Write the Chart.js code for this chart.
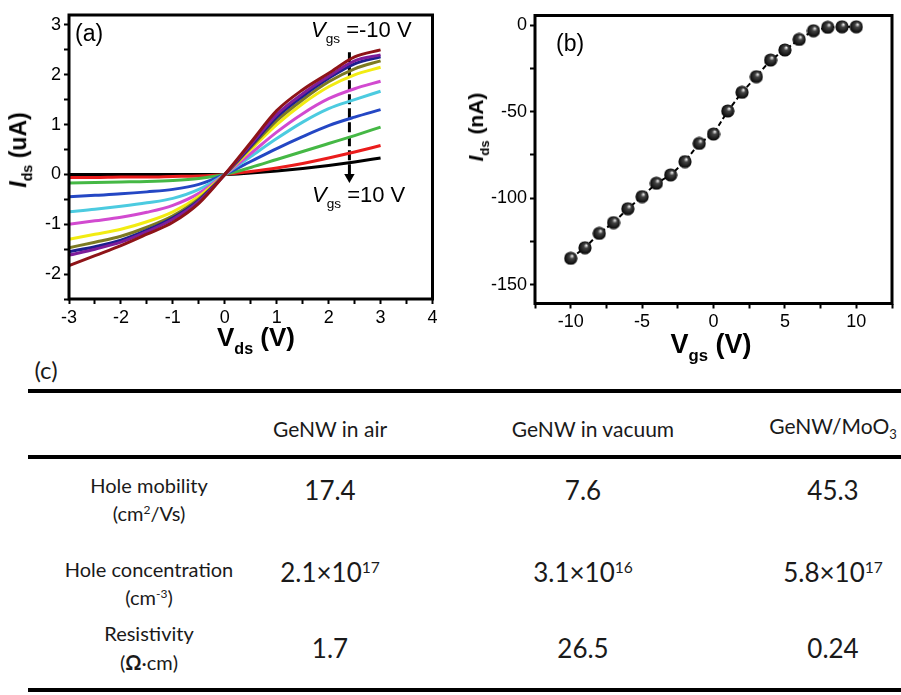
<!DOCTYPE html>
<html><head><meta charset="utf-8">
<script src="https://cdn.jsdelivr.net/npm/chart.js@4/dist/chart.umd.min.js"></script>
<style>
html,body{margin:0;padding:0;background:#fff;}
#wrap{position:relative;width:901px;height:695px;overflow:hidden;background:#fff;}
canvas{position:absolute;}
.t{position:absolute;white-space:nowrap;line-height:1;color:#000;font-family:"Liberation Sans",Arial,sans-serif;}
.c{transform:translate(-50%,-50%);}
.tb{position:absolute;white-space:nowrap;line-height:1;color:#1a1a1a;font-family:Lato,"Open Sans",sans-serif;transform:translate(-50%,-50%);}
.hr{position:absolute;left:28px;width:873px;height:4px;background:#000;}
sub{font-size:0.62em;vertical-align:-0.45em;}
sup{font-size:0.6em;vertical-align:0.55em;}
</style></head>
<body><div id="wrap">
<canvas id="ca" width="450" height="340" style="left:0;top:0"></canvas>
<canvas id="cb" width="451" height="360" style="left:450px;top:0"></canvas>
</div>
<script>
// ---------- Panel (a): Ids–Vds curves for Vgs = -10 ... 10 V ----------
const vdsValues = [-3,-2.5,-2,-1.5,-1,-0.5,0,0.5,1,1.5,2,2.5,3];
const vgsLabels = ['-10 V','-8 V','-6 V','-4 V','-2 V','0 V','2 V','4 V','6 V','8 V','10 V'];
const curveColors = ['#8e1418','#7d1d9a','#1c1f8f','#7c7a22','#f2ec12','#d24ad0','#4ccbe0','#2447c4','#45b845','#ea1c1c','#000000'];
const idsVgsM10 = [-1.83,-1.63,-1.43,-1.2,-0.96,-0.58,0,0.64,1.28,1.7,2.03,2.36,2.5];
const idsVgsM8  = [-1.62,-1.5,-1.36,-1.15,-0.9,-0.54,0,0.6,1.2,1.62,1.97,2.28,2.4];
const idsVgsM6  = [-1.55,-1.45,-1.32,-1.12,-0.87,-0.52,0,0.57,1.15,1.57,1.93,2.22,2.36];
const idsVgsM4  = [-1.47,-1.36,-1.24,-1.06,-0.83,-0.49,0,0.54,1.08,1.5,1.86,2.12,2.28];
const idsVgsM2  = [-1.3,-1.2,-1.1,-0.95,-0.75,-0.44,0,0.5,1.0,1.42,1.76,2.0,2.15];
const idsVgs0   = [-1.0,-0.93,-0.86,-0.76,-0.62,-0.38,0,0.42,0.85,1.22,1.52,1.72,1.87];
const idsVgsP2  = [-0.75,-0.7,-0.64,-0.57,-0.48,-0.3,0,0.36,0.72,1.05,1.32,1.5,1.67];
const idsVgsP4  = [-0.45,-0.42,-0.39,-0.35,-0.3,-0.2,0,0.26,0.52,0.76,0.98,1.15,1.3];
const idsVgsP6  = [-0.17,-0.16,-0.15,-0.14,-0.12,-0.08,0,0.14,0.3,0.46,0.62,0.78,0.95];
const idsVgsP8  = [-0.06,-0.06,-0.05,-0.05,-0.04,-0.03,0,0.06,0.13,0.22,0.33,0.45,0.58];
const idsVgsP10 = [0,0,0,0,0,0,0,0.03,0.07,0.12,0.18,0.25,0.33];
const idsCurves = [idsVgsM10,idsVgsM8,idsVgsM6,idsVgsM4,idsVgsM2,idsVgs0,idsVgsP2,idsVgsP4,idsVgsP6,idsVgsP8,idsVgsP10];
// dashed arrow (Vgs increasing direction)
const arrowX = [2.4, 2.4];
const arrowY = [2.45, -0.05];

// ---------- Panel (b): Ids–Vgs transfer curve ----------
const vgsValues = [-10,-9,-8,-7,-6,-5,-4,-3,-2,-1,0,1,2,3,4,5,6,7,8,9,10];
const idsTransfer = [-134.6,-128.5,-120.2,-114,-106,-99,-91.3,-86.5,-78.8,-68.3,-62.9,-49.6,-38.8,-29.8,-20.2,-14.4,-8.3,-3.3,-1.3,-1,-1];

// ---------- Panel (c): table ----------
const tableColumns = ['GeNW in air','GeNW in vacuum','GeNW/MoO3'];
const tableRows = ['Hole mobility','Hole concentration','Resistivity'];
const tableUnits = ['(cm2/Vs)','(cm-3)','(Ω·cm)'];
const holeMobility = [17.4, 7.6, 45.3];
const holeConcMantissa = [2.1, 3.1, 5.8];
const holeConcExponent = [17, 16, 17];
const resistivity = [1.7, 26.5, 0.24];

const FONT = '"Liberation Sans", Arial, sans-serif';
const framePlugin = {
  id:'frame',
  afterDatasetsDraw(chart){
    const {ctx, chartArea:a} = chart;
    ctx.save(); ctx.strokeStyle='#000'; ctx.lineWidth=3;
    ctx.strokeRect(a.left, a.top, a.right-a.left, a.bottom-a.top);
    ctx.restore();
  }
};
function axisCommon(min,max,step,labelFn,fitFn){
  return {
    type:'linear', min, max, afterFit:fitFn,
    border:{display:false},
    grid:{drawOnChartArea:false, drawTicks:true, tickLength:5, tickWidth:2, tickColor:'#000'},
    ticks:{stepSize:step, autoSkip:false, maxRotation:0, includeBounds:false, color:'#000',
      font:{family:FONT, size:18}, padding:3, callback:labelFn}
  };
}

// Chart (a)
new Chart(document.getElementById('ca'), {
  type:'line',
  data:{datasets: idsCurves.map((arr,i)=>({
      label:'Vgs='+vgsLabels[i],
      data: arr.map((y,j)=>({x:vdsValues[j], y})),
      borderColor: curveColors[i], borderWidth:3, pointRadius:0,
      cubicInterpolationMode:'monotone', fill:false
    })).concat([{
      label:'arrow',
      data: arrowX.map((x,j)=>({x, y:arrowY[j]})),
      borderColor:'#000', borderWidth:3, borderDash:[10,4],
      pointRadius:[0,6], pointStyle:'triangle', pointRotation:180,
      pointBackgroundColor:'#000', pointBorderColor:'#000', pointBorderWidth:0
    }])},
  options:{
    responsive:false, animation:false,
    layout:{padding:{left:0, top:15, right:17.5, bottom:0}},
    plugins:{legend:{display:false}, tooltip:{enabled:false}},
    scales:{
      x: axisCommon(-3,4,0.5, v=>Number.isInteger(v)?String(v):'', s=>{s.height=41;}),
      y: axisCommon(-2.5,3.2,0.5, v=>Number.isInteger(v)?String(v):'', s=>{s.width=69;})
    }
  },
  plugins:[framePlugin]
});

// sphere marker
const sphere = document.createElement('canvas');
sphere.width=14; sphere.height=14;
(function(){
  const g=sphere.getContext('2d');
  const gr=g.createRadialGradient(8.5,4.5,0.3,7,7,7);
  gr.addColorStop(0,'#f0f0f0'); gr.addColorStop(0.3,'#444'); gr.addColorStop(1,'#000');
  g.fillStyle=gr; g.beginPath(); g.arc(7,7,6.6,0,Math.PI*2); g.fill();
})();

// Chart (b)
new Chart(document.getElementById('cb'), {
  type:'line',
  data:{datasets:[{
    label:'Ids',
    data: vgsValues.map((x,i)=>({x, y:idsTransfer[i]})),
    borderColor:'#000', borderWidth:2, borderDash:[5,3],
    pointStyle: sphere, pointRadius:7
  }]},
  options:{
    responsive:false, animation:false,
    layout:{padding:{left:0, top:15.5, right:7, bottom:0}},
    plugins:{legend:{display:false}, tooltip:{enabled:false}},
    scales:{
      x: axisCommon(-12.5,12.5,2.5, v=>v%5===0?String(v):'', s=>{s.height=56.5;}),
      y: axisCommon(-160.7,5.5,25, v=>v%50===0?String(v):'', s=>{s.width=85;})
    }
  },
  plugins:[framePlugin]
});

// ---------- text overlays ----------
const wrap = document.getElementById('wrap');
function addText(html, cls, style){
  const d=document.createElement('div'); d.className=cls; d.innerHTML=html;
  Object.assign(d.style, style); wrap.appendChild(d); return d;
}
addText('(a)','t',{left:'75px',top:'22px',fontSize:'23px'});
addText('(b)','t',{left:'556px',top:'32px',fontSize:'23px'});
addText('<i>I</i><sub>ds</sub> (uA)','t c',{left:'21px',top:'150px',fontSize:'23px',fontWeight:'bold',transform:'translate(-50%,-50%) rotate(-90deg)'});
addText('<i>I</i><sub>ds</sub> (nA)','t c',{left:'478px',top:'127px',fontSize:'21px',fontWeight:'bold',transform:'translate(-50%,-50%) rotate(-90deg)'});
addText('V<sub>ds</sub> (V)','t c',{left:'256px',top:'340px',fontSize:'26px',fontWeight:'bold'});
addText('V<sub>gs</sub> (V)','t c',{left:'711px',top:'348px',fontSize:'27px',fontWeight:'bold'});
addText('<i>V</i><sub>gs</sub> =-10 V','t',{left:'311px',top:'19px',fontSize:'22px'});
addText('<i>V</i><sub>gs</sub> =10 V','t',{left:'312px',top:'184px',fontSize:'22px'});

// table
addText('(c)','tb',{left:'46px',top:'370px',fontSize:'24px'});
[391,457,690].forEach(y=>{const h=document.createElement('div');h.className='hr';h.style.top=(y-2)+'px';wrap.appendChild(h);});
const headerX=[330,593,833], valueX=[330,583,833];
tableColumns.forEach((c,i)=>addText(c.replace(/O3$/,'O<sub>3</sub>'),'tb',{left:headerX[i]+'px',top:'428px',fontSize:'21px'}));
const unitHtml = u=>u.replace('cm2','cm<sup>2</sup>').replace('cm-3','cm<sup>-3</sup>').replace('Ω','<b>Ω</b>');
const labelY=[[485,513],[569,597],[633,662]];
tableRows.forEach((r,i)=>{
  addText(r,'tb',{left:'149px',top:labelY[i][0]+'px',fontSize:'20px'});
  addText(unitHtml(tableUnits[i]),'tb',{left:'149px',top:labelY[i][1]+'px',fontSize:'20px'});
});
holeMobility.forEach((v,i)=>addText(String(v),'tb',{left:valueX[i]+'px',top:'490px',fontSize:'26px'}));
holeConcMantissa.forEach((m,i)=>addText(m+'×10<sup>'+holeConcExponent[i]+'</sup>','tb',{left:valueX[i]+'px',top:'572px',fontSize:'26px'}));
resistivity.forEach((v,i)=>addText(String(v),'tb',{left:valueX[i]+'px',top:'648px',fontSize:'26px'}));
</script>
</body></html>
